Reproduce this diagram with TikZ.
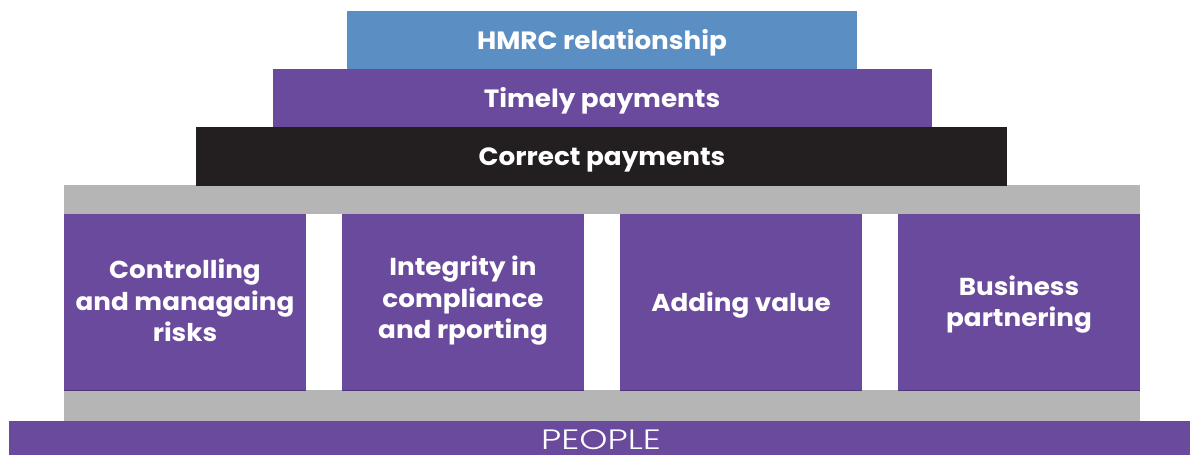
\documentclass[tikz,border=0pt]{standalone}
\usepackage{fontspec}
\setmainfont{Poppins}[UprightFont=* Bold, BoldFont=* Bold]
\newfontfamily\lightfont{Poppins Light}
\definecolor{hblue}{HTML}{5B8FC4}
\definecolor{hpurple}{HTML}{6A4A9C}
\definecolor{hpurpledark}{HTML}{4E3478}
\definecolor{hblack}{HTML}{231F20}
\definecolor{hgray}{HTML}{B5B5B5}
\begin{document}
\begin{tikzpicture}[x=1pt,y=-1pt,
  bar/.style={inner sep=0pt, outer sep=0pt, anchor=base, xscale=1.05, transform shape, text=white, font=\fontsize{25}{28}\selectfont},
  pillar/.style={inner sep=0pt, outer sep=0pt, xscale=1.07, transform shape, text=white, align=center, font=\fontsize{24.5}{31.5}\selectfont}]
\useasboundingbox (0,0) rectangle (1190,455);
\fill[white] (0,0) rectangle (1190,455);
% gray bands
\fill[hgray] (64,185) rectangle (1140,214);
\fill[hgray] (64,390) rectangle (1140,421);
% top bars
\fill[hblue] (347,11) rectangle (857,69.5);
\node[bar] (hmrc) at (602,49.5) {HMRC relationship};
\fill[hpurple] (273,69) rectangle (932,127.5);
\node[bar] (timely) at (602,107.5) {Timely payments};
\fill[hblack] (196,127) rectangle (1007,186);
\node[bar] (correct) at (602,165.5) {Correct payments};
% pillars
\foreach \x/\y/\n/\t in {64/300.5/p1/{Controlling\\and managaing\\risks},
                      342/301/p2/{Integrity in\\compliance\\and rporting},
                      620/305.5/p3/{Adding value},
                      898/304.5/p4/{Business\\partnering}}{
  \fill[hpurple] (\x,214) rectangle ++(242,177);
  \draw[hpurpledark, line width=1pt] (\x,390.5) -- ++(242,0);
  \node[pillar] (\n) at (\x+121,\y) {\t};
}
% people
\fill[hpurple] (9,421) rectangle (1190,455);
\node[inner sep=0pt, anchor=base, text depth=0pt, xscale=1.28, transform shape, text=white, font=\lightfont\fontsize{28}{30}\selectfont] (people) at (601,449) {PEOPLE};
\end{tikzpicture}
\end{document}
